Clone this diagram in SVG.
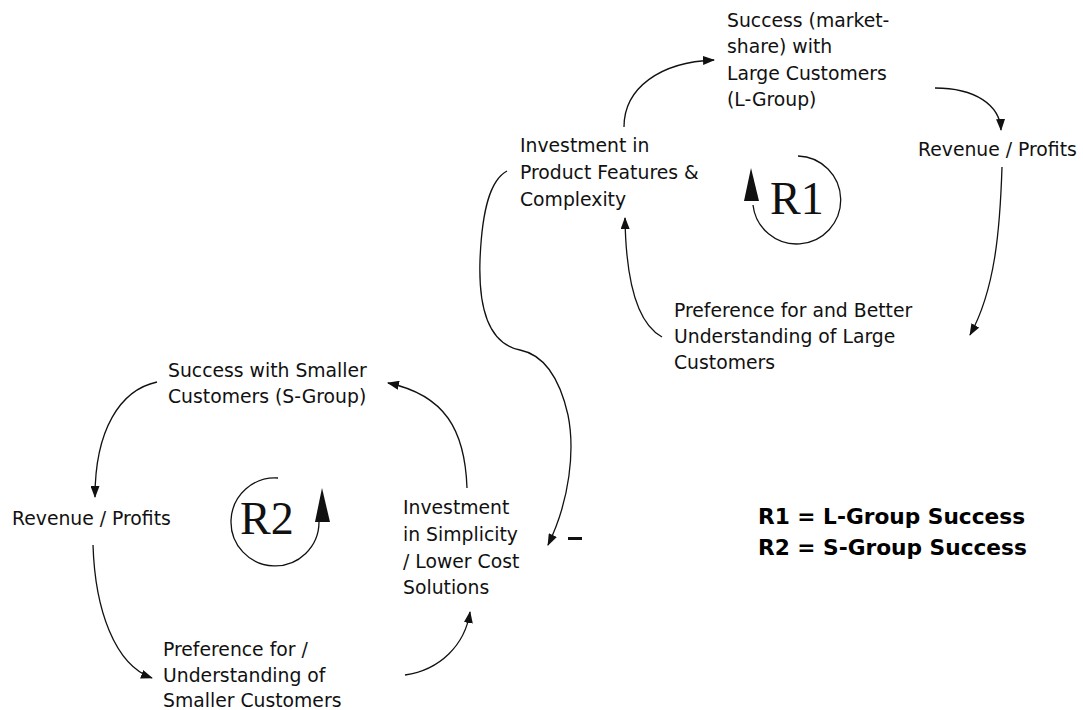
<svg xmlns="http://www.w3.org/2000/svg" width="1083" height="710" viewBox="0 0 1083 710">
<style>
.t{font-family:"DejaVu Sans","Liberation Sans",sans-serif;font-size:18.8px;fill:#111}
.r{font-family:"Liberation Serif","DejaVu Serif",serif;font-size:46px;fill:#111}
.lg{font-family:"DejaVu Sans","Liberation Sans",sans-serif;font-size:21.7px;font-weight:bold;fill:#000}
.c{fill:none;stroke:#111;stroke-width:1.3}
.ah{fill:#111}
</style>
<defs>
<marker id="arr" viewBox="0 0 12 9" refX="11" refY="4.5" markerWidth="12" markerHeight="9" markerUnits="userSpaceOnUse" orient="auto">
<path d="M0,0 L12,4.5 L0,9 z" fill="#111"/>
</marker>
</defs>
<rect width="1083" height="710" fill="#fff"/>
<g id="connectors">
<path class="c" d="M624,127 C624,88 660,62 714,60" marker-end="url(#arr)"/>
<path class="c" d="M935,88 C975,88 1000,105 1001,130" marker-end="url(#arr)"/>
<path class="c" d="M1002,167 C1000,230 995,290 970,335" marker-end="url(#arr)"/>
<path class="c" d="M662,337 C640,325 626,290 625,218" marker-end="url(#arr)"/>
<path class="c" d="M507,171 C490,180 482,210 480,260 C478,320 495,345 520,350 C545,355 560,380 568,415 C575,450 570,500 548,545" marker-end="url(#arr)"/>
<path class="c" d="M467,488 C465,430 445,395 388,383" marker-end="url(#arr)"/>
<path class="c" d="M157,382 C120,390 95,430 95,497" marker-end="url(#arr)"/>
<path class="c" d="M93,545 C95,610 115,665 152,678" marker-end="url(#arr)"/>
<path class="c" d="M405,675 C440,670 465,645 470,612" marker-end="url(#arr)"/>
<rect x="568" y="537" width="14" height="3" fill="#111"/>
</g>
<g id="loop-R1">
<path class="c" d="M798,156 A44,44 0 1 1 753,205"/>
<polygon class="ah" points="751,168 744,201 759,201"/>
<text class="r" x="770" y="214">R1</text>
</g>
<g id="loop-R2">
<path class="c" d="M278,478 A44,44 0 1 0 319,522"/>
<polygon class="ah" points="322,488 315,522 330,522"/>
<text class="r" x="240" y="534">R2</text>
</g>
<g id="n-success-large">
<text class="t" x="727" y="27">Success (market-</text>
<text class="t" x="727" y="53">share)  with</text>
<text class="t" x="727" y="80">Large Customers</text>
<text class="t" x="727" y="106">(L-Group)</text>
</g>
<g id="n-revenue-large">
<text class="t" x="918" y="156">Revenue / Profits</text>
</g>
<g id="n-pref-large">
<text class="t" x="674" y="317">Preference for and Better</text>
<text class="t" x="674" y="343">Understanding of Large</text>
<text class="t" x="674" y="369">Customers</text>
</g>
<g id="n-invest-features">
<text class="t" x="520" y="152">Investment in</text>
<text class="t" x="520" y="179">Product Features &amp;</text>
<text class="t" x="520" y="206">Complexity</text>
</g>
<g id="n-success-small">
<text class="t" x="168" y="377">Success with Smaller</text>
<text class="t" x="168" y="403">Customers (S-Group)</text>
</g>
<g id="n-revenue-small">
<text class="t" x="12" y="525">Revenue / Profits</text>
</g>
<g id="n-pref-small">
<text class="t" x="163" y="656">Preference for /</text>
<text class="t" x="163" y="682">Understanding of</text>
<text class="t" x="163" y="707">Smaller Customers</text>
</g>
<g id="n-invest-simplicity">
<text class="t" x="403" y="514">Investment</text>
<text class="t" x="403" y="541">in Simplicity</text>
<text class="t" x="403" y="568">/ Lower Cost</text>
<text class="t" x="403" y="594">Solutions</text>
</g>
<g id="legend">
<text class="lg" x="758" y="524">R1 = L-Group Success</text>
<text class="lg" x="758" y="555">R2 = S-Group Success</text>
</g>
</svg>
